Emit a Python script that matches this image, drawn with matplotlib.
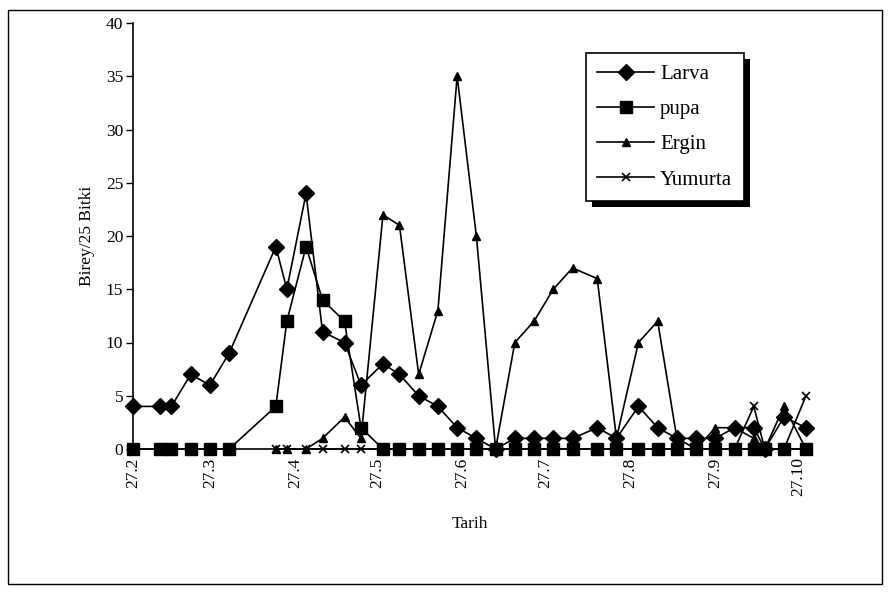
import matplotlib
matplotlib.use('Agg')
import matplotlib.pyplot as plt
from matplotlib.patches import Rectangle
import numpy as np
import pandas as pd

plt.rcParams['font.family'] = ['Liberation Serif', 'DejaVu Serif']

# sampling dates (day.month on the axis)
dates = pd.to_datetime([
    '2001-02-27', '2001-03-09', '2001-03-13', '2001-03-20', '2001-03-27', '2001-04-03',
    '2001-04-20', '2001-04-24', '2001-05-01', '2001-05-07', '2001-05-15', '2001-05-21',
    '2001-05-29', '2001-06-04', '2001-06-11', '2001-06-18', '2001-06-25', '2001-07-02',
    '2001-07-09', '2001-07-16', '2001-07-23', '2001-07-30', '2001-08-06', '2001-08-15',
    '2001-08-22', '2001-08-30', '2001-09-06', '2001-09-13', '2001-09-20', '2001-09-27',
    '2001-10-04', '2001-10-11', '2001-10-15', '2001-10-22', '2001-10-30'])

nan = np.nan
larva = [4, 4, 4, 7, 6, 9, 19, 15, 24, 11, 10, 6, 8, 7, 5, 4, 2, 1, 0, 1, 1, 1, 1, 2,
         1, 4, 2, 1, 1, 1, 2, 2, 0, 3, 2]
pupa = [0, 0, 0, 0, 0, 0, 4, 12, 19, 14, 12, 2, 0, 0, 0, 0, 0, 0, 0, 0, 0, 0, 0, 0,
        0, 0, 0, 0, 0, 0, 0, 0, 0, 0, 0]
ergin = [nan, nan, nan, nan, nan, nan, 0, 0, 0, 1, 3, 1, 22, 21, 7, 13, 35, 20, 0, 10,
         12, 15, 17, 16, 1, 10, 12, 1, 0, 2, 2, 1, 0, 4, 0]
yumurta = [nan, nan, nan, nan, nan, nan, 0, 0, 0, 0, 0, 0, 0, 0, 0, 0, 0, 0, 0, 0,
           0, 0, 0, 0, 0, 0, 0, 0, 0, 0, 0, 4, 0, 0, 5]

tick_dates = pd.to_datetime(['2001-%02d-27' % m for m in range(2, 11)])

fig = plt.figure(figsize=(8.9, 5.92), dpi=100)
ax = fig.add_axes([133 / 890, 1 - 449 / 592, (806 - 133) / 890, (449 - 23) / 592])

lw = 1.2
ax.plot(dates, larva, color='black', lw=lw, marker='D', ms=8, label='Larva', clip_on=False)
ax.plot(dates, pupa, color='black', lw=lw, marker='s', ms=8, label='pupa', clip_on=False)
ax.plot(dates, ergin, color='black', lw=lw, marker='^', ms=6, label='Ergin', clip_on=False)
ax.plot(dates, yumurta, color='black', lw=lw, marker='x', ms=6, mew=1.2, label='Yumurta',
        clip_on=False)

ax.set_xlim(dates[0], dates[-1])
ax.set_ylim(0, 40)
ax.set_yticks(np.arange(0, 41, 5))
ax.set_xticks(tick_dates)
ax.set_xticklabels(['%d.%d' % (d.day, d.month) for d in tick_dates], rotation=90)
ax.tick_params(axis='y', direction='out', length=5, width=1, labelsize=12.5, pad=2)
ax.tick_params(axis='x', direction='out', length=0, labelsize=12.5, pad=6)
ax.spines['top'].set_visible(False)
ax.spines['right'].set_visible(False)
ax.spines['left'].set_linewidth(1.2)
ax.spines['bottom'].set_linewidth(1.2)
ax.set_xlabel('Tarih', fontsize=12.5, labelpad=14)
ax.set_ylabel('Birey/25 Bitki', fontsize=12.5, labelpad=8)

handles, labels = ax.get_legend_handles_labels()
leg = fig.legend(handles, labels, loc='upper left', bbox_to_anchor=(586 / 890, 1 - 53 / 592),
                 fontsize=15, frameon=True, framealpha=1,
                 fancybox=False, edgecolor='black', handlelength=2.7,
                 handletextpad=0.3, labelspacing=0.75, borderpad=0.55,
                 borderaxespad=0)
leg.get_frame().set_linewidth(1.2)
leg.set_zorder(10)

fig.canvas.draw()
bb = leg.get_window_extent().transformed(fig.transFigure.inverted())
fig.add_artist(Rectangle((bb.x0 + 6 / 890, bb.y0 - 6 / 592), bb.width, bb.height,
                         transform=fig.transFigure, facecolor='black',
                         edgecolor='none', zorder=5))

# chart border
fig.add_artist(Rectangle((8 / 890, 8 / 592), 874 / 890, 574 / 592,
                         transform=fig.transFigure, fill=False,
                         edgecolor='black', lw=1.0))

fig.savefig('out.png', dpi=100)
